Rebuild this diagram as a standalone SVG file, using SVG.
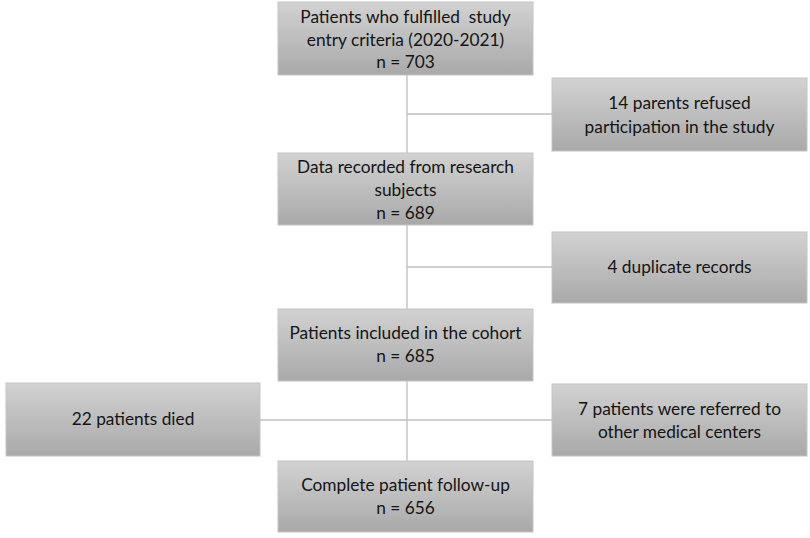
<svg xmlns="http://www.w3.org/2000/svg" width="810" height="538" viewBox="0 0 810 538">
<defs>
<linearGradient id="g" x1="0" y1="0" x2="0" y2="1">
<stop offset="0" stop-color="#d2d2d2"/>
<stop offset="1" stop-color="#a9a9a9"/>
</linearGradient>
</defs>
<style>
.box{fill:url(#g);stroke:#c4c4c4;stroke-width:1}
.t{font-family:Lato,"Open Sans",sans-serif;font-size:17.3px;fill:#141414;text-anchor:middle;white-space:pre}
.c{stroke:#bfbfbf;stroke-width:1.3;fill:none}
</style>
<rect width="810" height="538" fill="#ffffff"/>
<g id="connectors">
<line class="c" x1="407" y1="75" x2="407" y2="153"/>
<line class="c" x1="407" y1="114" x2="552" y2="114"/>
<line class="c" x1="407" y1="225" x2="407" y2="309"/>
<line class="c" x1="407" y1="267" x2="552" y2="267"/>
<line class="c" x1="407" y1="381" x2="407" y2="461"/>
<line class="c" x1="260" y1="420" x2="552" y2="420"/>
</g>
<g id="n1">
<rect class="box" x="278" y="2" width="255" height="73"/>
<text class="t" x="405.5" y="23" xml:space="preserve">Patients who fulfilled  study</text>
<text class="t" x="405.5" y="46">entry criteria (2020-2021)</text>
<text class="t" x="405.5" y="68">n = 703</text>
</g>
<g id="n2">
<rect class="box" x="552" y="78" width="255" height="73"/>
<text class="t" x="679.5" y="109">14 parents refused</text>
<text class="t" x="679.5" y="133">participation in the study</text>
</g>
<g id="n3">
<rect class="box" x="278" y="153" width="255" height="72"/>
<text class="t" x="405.5" y="173">Data recorded from research</text>
<text class="t" x="405.5" y="196">subjects</text>
<text class="t" x="405.5" y="219">n = 689</text>
</g>
<g id="n4">
<rect class="box" x="552" y="232" width="255" height="71"/>
<text class="t" x="679.5" y="273">4 duplicate records</text>
</g>
<g id="n5">
<rect class="box" x="278" y="309" width="255" height="72"/>
<text class="t" x="405.5" y="339">Patients included in the cohort</text>
<text class="t" x="405.5" y="362">n = 685</text>
</g>
<g id="n6">
<rect class="box" x="6" y="383" width="254" height="73"/>
<text class="t" x="133" y="425">22 patients died</text>
</g>
<g id="n7">
<rect class="box" x="552" y="384" width="255" height="72"/>
<text class="t" x="679.5" y="415">7 patients were referred to</text>
<text class="t" x="679.5" y="438">other medical centers</text>
</g>
<g id="n8">
<rect class="box" x="278" y="461" width="255" height="71"/>
<text class="t" x="405.5" y="491">Complete patient follow-up</text>
<text class="t" x="405.5" y="514">n = 656</text>
</g>
</svg>
